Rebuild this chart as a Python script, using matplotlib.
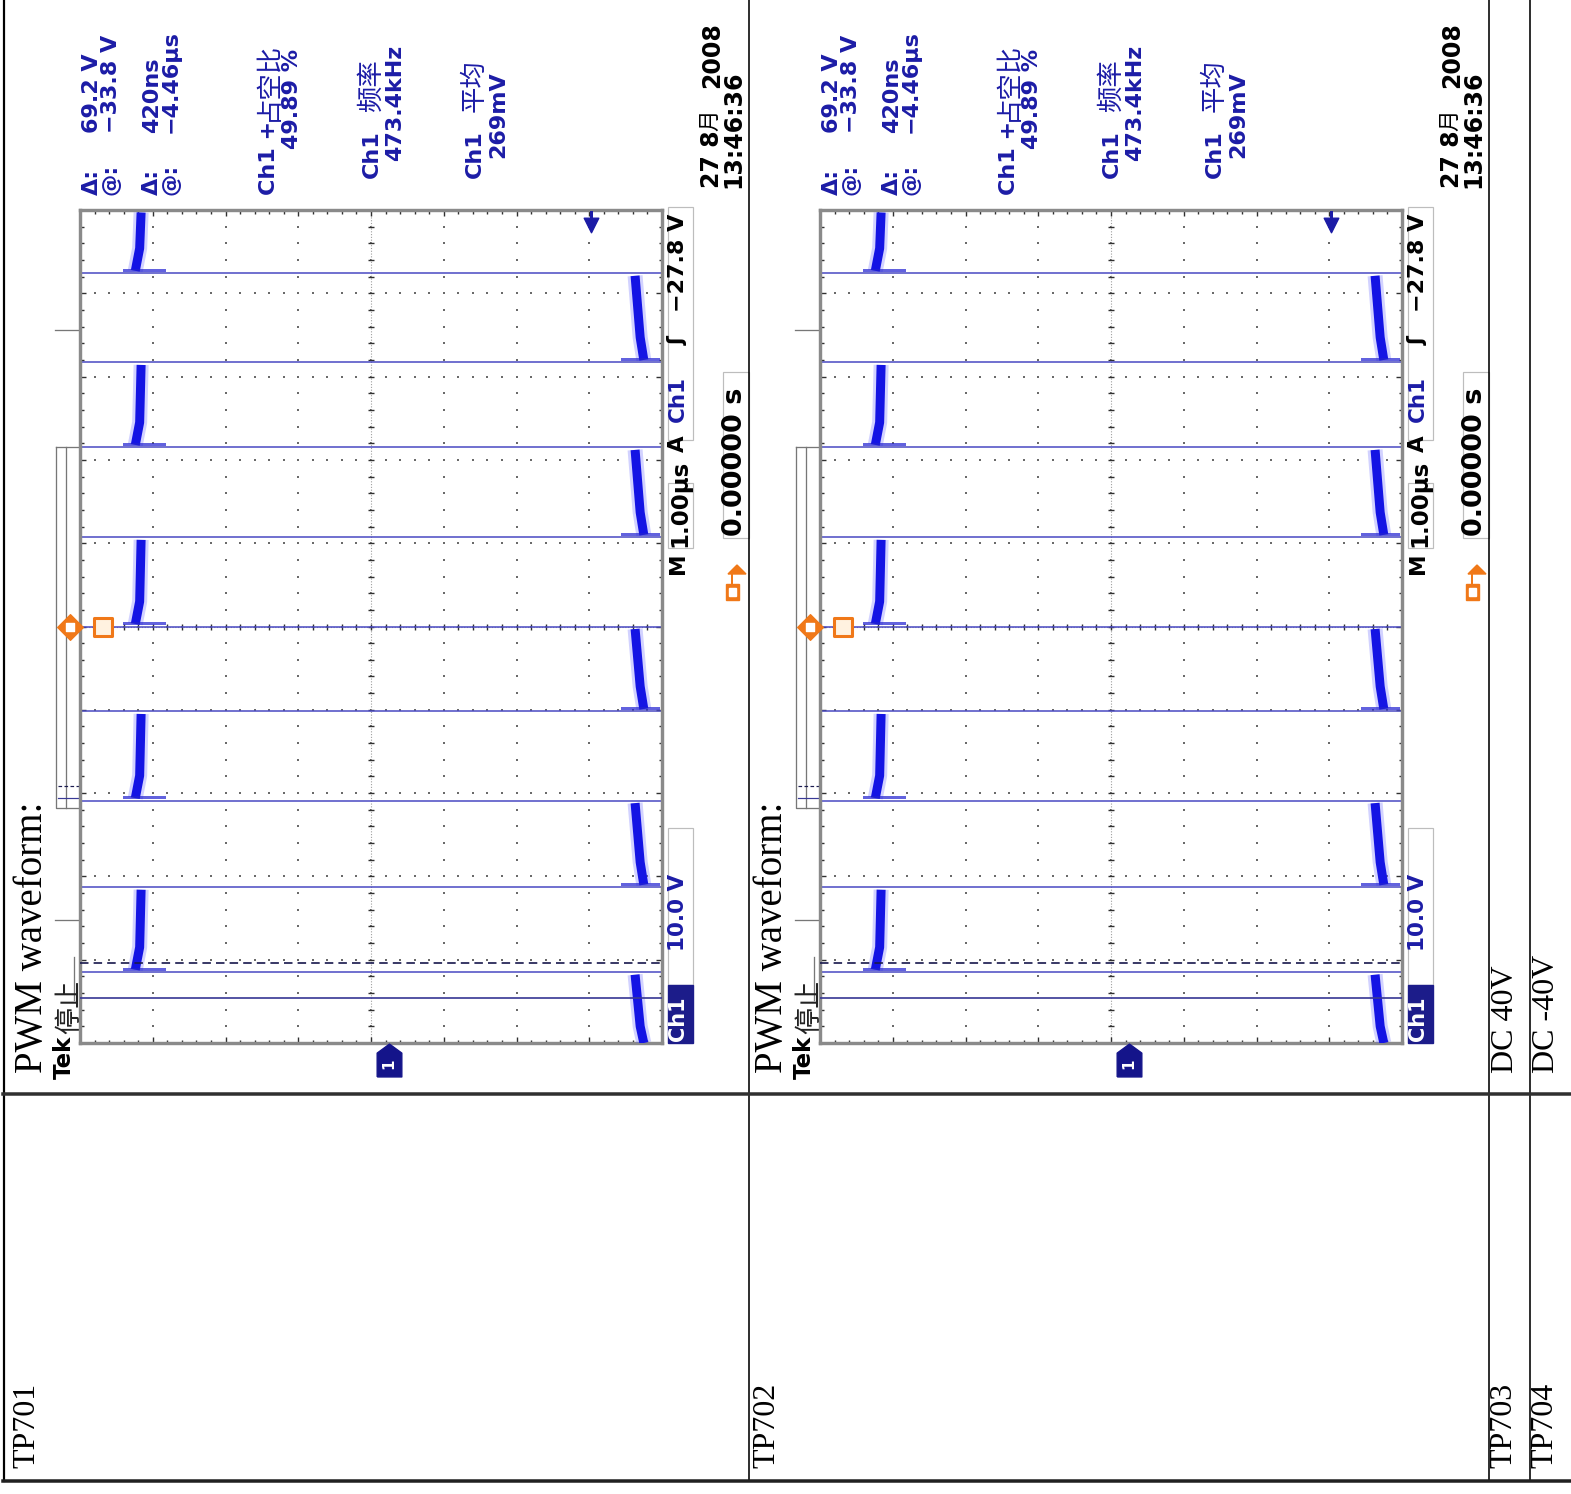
import numpy as np
import matplotlib
matplotlib.use("Agg")
import matplotlib.pyplot as plt
from matplotlib.patches import Rectangle, Polygon

W, H = 1571, 1494
PT = 0.72  # points per pixel at dpi 100

# --- scope capture (same screen shot is used for TP701 and TP702) ---
edge_times = [-4.15, -3.13, -2.09, -1.02, 0.0, 1.07, 2.15, 3.17, 4.24]  # us, rise/fall alternating
start_low = True
high_level = [34.9, 34.3, 34.1]     # V right after rise, settled, before fall
low_level = [-35.0, -34.5, -33.8]   # V right after fall, settled, before rise
rise_smear = [36.5, 31.0]           # ringing at top of rising edge (V)
fall_smear = [-32.0, -37.0]
cursor_times = [-4.04, -4.46]       # dashed, solid
trig_level = -27.8
volt_lines = [-27.5, -17.5, -7.5, 2.5, 12.5, 22.5, 32.5]
time_lines = [-4, -3, -2, -1, 0, 1, 2, 3, 4]

cursor_text = [("Δ:", "69.2 V"), ("@:", "−33.8 V"), ("Δ:", "420ns"), ("@:", "−4.46µs")]
meas_names = ["Ch1 +", "Ch1", "Ch1"]
meas_cjk = ["占空比", "频率", "平均"]
meas_values = ["49.89 %", "473.4kHz", "269mV"]
date_text = ["27 8", "月", "2008", "13:46:36"]

tp_labels = ["TP701", "TP702", "TP703", "TP704"]
dc_labels = ["DC 40V", "DC -40V"]

SCOPE_FONT = ["DejaVu Sans", "Noto Sans CJK SC"]
CJK_FONT = ["Noto Sans CJK SC", "DejaVu Sans"]
SERIF = ["Liberation Serif", "DejaVu Serif"]
BLUE = "#1c1ca6"

fig = plt.figure(figsize=(W / 100, H / 100), dpi=100)
page = fig.add_axes([0, 0, 1, 1])
page.set_xlim(0, W)
page.set_ylim(H, 0)
page.axis("off")


def vtext(x, y, s, size, color="black", family=SCOPE_FONT, weight="bold", ha="left"):
    page.text(x, y, s, rotation=90, ha=ha, va="bottom", fontsize=size,
              color=color, family=family, weight=weight)


def draw_scope(dx):
    left, right, top, bottom = 80 + dx, 662 + dx, 210, 1043
    sc = fig.add_axes([left / W, 1 - bottom / H, (right - left) / W, (bottom - top) / H])
    sc.set_xlim(42.5, -37.5)
    sc.set_ylim(-5, 5)
    sc.set_facecolor("white")
    for sp in sc.spines.values():
        sp.set_color("#8a8a8a")
        sp.set_linewidth(3.4 * PT)
    sc.set_xticks(np.arange(-37.5, 42.6, 10))
    sc.set_xticks(np.arange(-37.5, 42.6, 2), minor=True)
    sc.set_yticks(np.arange(-5, 5.01, 1))
    sc.set_yticks(np.arange(-5, 5.01, 0.2), minor=True)
    sc.tick_params(which="both", direction="in", top=True, right=True,
                   labelbottom=False, labelleft=False, color="#303030", width=1)
    sc.tick_params(which="major", length=6 * PT)
    sc.tick_params(which="minor", length=3.5 * PT)

    # graticule dots
    ts = np.arange(-5, 5.001, 0.2)
    vs = np.arange(-37.5, 42.501, 2.0)
    for v in volt_lines:
        sc.scatter(np.full_like(ts, v), ts, s=2.5, marker="s", color="#6a6a6a", lw=0, zorder=1)
    for t in time_lines:
        sc.scatter(vs, np.full_like(vs, t), s=2.5, marker="s", color="#6a6a6a", lw=0, zorder=1)
    sc.plot([2.5, 2.5], [-5, 5], color="#a0a0a0", lw=0.8, ls=(0, (1, 1.5)), zorder=1)
    sc.plot([-37.5, 42.5], [0, 0], color="#a0a0a0", lw=0.8, ls=(0, (1, 1.5)), zorder=1)
    sc.scatter(np.full_like(ts, 2.5), ts, marker="_", s=22, color="#303030", lw=1, zorder=1)
    sc.scatter(vs, np.zeros_like(vs), marker="|", s=22, color="#303030", lw=1, zorder=1)

    # waveform
    bounds = [-5.0] + edge_times + [5.0]
    low = start_low
    for i in range(len(bounds) - 1):
        t0, t1 = bounds[i], bounds[i + 1]
        lv = low_level if low else high_level
        tt = [t0 + 0.03, t0 + 0.3, t1 - 0.03]
        if i == 0:
            tt = [t0, t0 + 0.2, t1 - 0.03]
        sc.plot(lv, tt, color="#6a6aff", lw=15 * PT, alpha=0.3, solid_capstyle="butt", zorder=3)
        sc.plot(lv, tt, color="#1414e4", lw=9 * PT, solid_capstyle="butt", zorder=4)
        low = not low
    rising = start_low
    for t in edge_times:
        sc.axhline(t, color="#4a4ac2", lw=1.7 * PT, alpha=0.9, zorder=2)
        sm = rise_smear if rising else fall_smear
        sc.plot(sm, [t + 0.04, t + 0.04], color="#2020d0", lw=3 * PT, alpha=0.7, zorder=4)
        rising = not rising

    # cursors
    sc.axhline(cursor_times[0], color="#1c1c50", lw=1.7 * PT, ls=(0, (5, 3)), zorder=5)
    sc.axhline(cursor_times[1], color="#3a3a96", lw=1.7 * PT, zorder=5)

    # trigger level arrow, ground marker, trigger position
    sc.plot([trig_level, trig_level], [4.98, 4.84], color=BLUE, lw=3 * PT, zorder=6, clip_on=False)
    sc.scatter([trig_level], [4.82], marker="v", s=110, color=BLUE, zorder=6, clip_on=False)
    house = [(-0.75, -1), (0.75, -1), (0.75, 0.45), (0, 1), (-0.75, 0.45), (-0.75, -1)]
    sc.scatter([0], [-5.21], marker=house, s=560, color="#14148a", zorder=6, clip_on=False)
    sc.text(0, -5.25, "1", rotation=90, color="white", ha="center", va="center",
            fontsize=11, weight="bold", clip_on=False, zorder=7)
    sc.scatter([43.9], [0], marker="D", s=170, color="#f07818", zorder=6, clip_on=False)
    sc.scatter([43.9], [0], marker="s", s=30, color="white", zorder=7, clip_on=False)
    sc.scatter([39.3], [0], marker="s", s=150, facecolor="#fff2e0", edgecolor="#f07818",
               lw=2.2, zorder=6, clip_on=False)

    # record view bracket
    gc = "#777777"
    page.plot([dx + 55, dx + 80], [330, 330], color=gc, lw=1.3 * PT)
    page.plot([dx + 55, dx + 80], [920, 920], color=gc, lw=1.3 * PT)
    page.plot([dx + 56, dx + 80, dx + 80, dx + 56, dx + 56], [447, 447, 808, 808, 447], color=gc, lw=1.3 * PT)
    page.plot([dx + 66, dx + 66], [447, 808], color=gc, lw=1.3 * PT)
    page.plot([dx + 58, dx + 80], [786, 786], color="#1c1c50", lw=1.2 * PT, ls=(0, (3, 2)))
    page.plot([dx + 58, dx + 80], [798, 798], color="#3a3a96", lw=1.2 * PT)
    page.plot([dx + 74, dx + 74], [957, 1000], color=gc, lw=1.3 * PT)

    # text readouts at the top (original right side)
    xs = [82, 101, 142, 161]
    for (lab, val), x in zip(cursor_text, xs):
        vtext(dx + x, 195, lab, 16, BLUE)
        vtext(dx + x, 133, val, 16, BLUE)
    name_bottom = [195, 178, 178]
    cjk_bottom = [121, 112, 112]
    val_bottom = [149, 161, 158]
    for i, x in enumerate([259, 362, 465]):
        vtext(dx + x, name_bottom[i], meas_names[i], 16, BLUE)
        vtext(dx + x + 9, cjk_bottom[i], meas_cjk[i], 19, BLUE, family=CJK_FONT,
              weight="normal", ha="center")
        vtext(dx + x + 23, val_bottom[i], meas_values[i], 16, BLUE)
    vtext(dx + 700, 188, date_text[0], 17)
    vtext(dx + 710, 131, date_text[1], 15.5, family=CJK_FONT, weight="normal", ha="center")
    vtext(dx + 700, 88, date_text[2], 17)
    vtext(dx + 721, 188, date_text[3], 17)

    # bottom readouts (original lower edge)
    page.add_patch(Rectangle((dx + 668, 985), 25, 58, color="#1c1c8a", zorder=3))
    vtext(dx + 668, 1041, "Ch1", 15, "white")
    page.add_patch(Rectangle((dx + 668, 828), 25, 157, fill=False, ec="#bdbdbd", lw=1.2 * PT))
    vtext(dx + 668, 951, "10.0 V", 15.5, BLUE)
    vtext(dx + 668, 574, "M", 15.5)
    page.add_patch(Rectangle((dx + 668, 483), 25, 65, fill=False, ec="#bdbdbd", lw=1.2 * PT))
    vtext(dx + 668, 547, "1.00µs", 16.5)
    vtext(dx + 668, 452, "A", 15.5)
    page.add_patch(Rectangle((dx + 668, 207), 25, 233, fill=False, ec="#bdbdbd", lw=1.2 * PT))
    vtext(dx + 668, 422, "Ch1", 15.5, BLUE)
    vtext(dx + 668, 345, "ʃ", 15.5)
    vtext(dx + 668, 312, "−27.8 V", 16)
    page.add_patch(Rectangle((dx + 723, 372), 26, 166, fill=False, ec="#bdbdbd", lw=1.2 * PT))
    vtext(dx + 722, 536, "0.00000 s", 19.5)
    page.add_patch(Rectangle((dx + 726, 584), 13, 16, color="#f07818"))
    page.add_patch(Rectangle((dx + 729, 588), 7, 8, color="white"))
    page.plot([dx + 732, dx + 732], [584, 574], color="#f07818", lw=2 * PT)
    page.add_patch(Polygon([(dx + 728, 574), (dx + 746, 574), (dx + 737, 565)], color="#f07818"))

    # Tek label and document caption
    vtext(dx + 53, 1079, "Tek", 16.5)
    vtext(dx + 70, 1034, "停止", 19.5, "#222222", family=CJK_FONT, weight="normal", ha="center")
    vtext(dx + 14, 1073, "PWM waveform:", 28, family=SERIF, weight="normal")


draw_scope(0)
draw_scope(740)

# document table lines
lc = "black"
for x, lw in [(4, 2.2), (749, 1.6), (1489, 1.6), (1530, 1.6)]:
    page.plot([x, x], [0, 1481], color=lc, lw=lw * PT)
page.plot([3, W], [1094, 1094], color="#303030", lw=3.5 * PT)
page.plot([3, W], [1481, 1481], color="#202020", lw=3.5 * PT)

for lab, x in zip(tp_labels, [12, 752, 1489, 1530]):
    vtext(x, 1468, lab, 23, family=SERIF, weight="normal")
for lab, x in zip(dc_labels, [1491, 1532]):
    vtext(x, 1073, lab, 23, family=SERIF, weight="normal")

fig.savefig("out.png", dpi=100)
